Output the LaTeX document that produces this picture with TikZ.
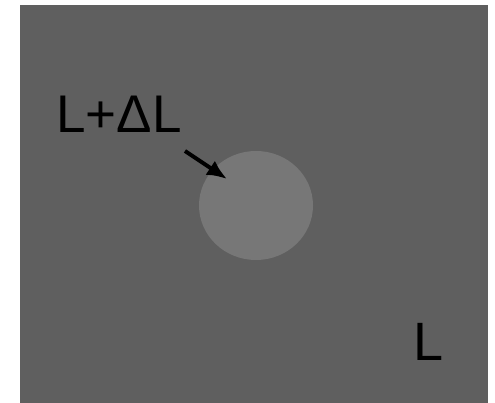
\documentclass[tikz,border=0pt]{standalone}
\usepackage{fontspec}
\setmainfont{Liberation Sans}
\usetikzlibrary{arrows.meta,shapes.geometric}
\usepackage{xcolor}

\begin{document}
\begin{tikzpicture}[x=1pt,y=1pt,>={Latex[length=20pt,width=17pt]}]

% colors
\definecolor{backgroundGray}{HTML}{5F5F5F}
\definecolor{spotGray}{HTML}{777777}
\def\labelColor{black}

\def\spotRadiusX{57}
\def\spotRadiusY{54.5}

% page size
\useasboundingbox (0,0) rectangle (495,403);

% background
\fill[backgroundGray] (20,0) rectangle (488,398);

% bright spot
\node[
    fill=spotGray,
    ellipse,
    draw=none,
    inner sep=0pt,
    minimum width=2*\spotRadiusX,
    minimum height=2*\spotRadiusY,
] (spot) at (256,197.5) {};

% labels
\node[text=\labelColor, inner sep=0pt, anchor=base west, font=\fontsize{53}{60}\selectfont] (spotLabel) at (56,270) {L+ΔL};
\node[text=\labelColor, inner sep=0pt, anchor=base west, font=\fontsize{54}{60}\selectfont] (backgroundLabel) at (413,42) {L};

% arrow coordinates
\coordinate (arrowTail) at (185,252);
\coordinate (arrowTip) at (227,224);

% arrow
\draw[->,\labelColor,line width=4pt] (arrowTail) -- (arrowTip);

\end{tikzpicture}
\end{document}
